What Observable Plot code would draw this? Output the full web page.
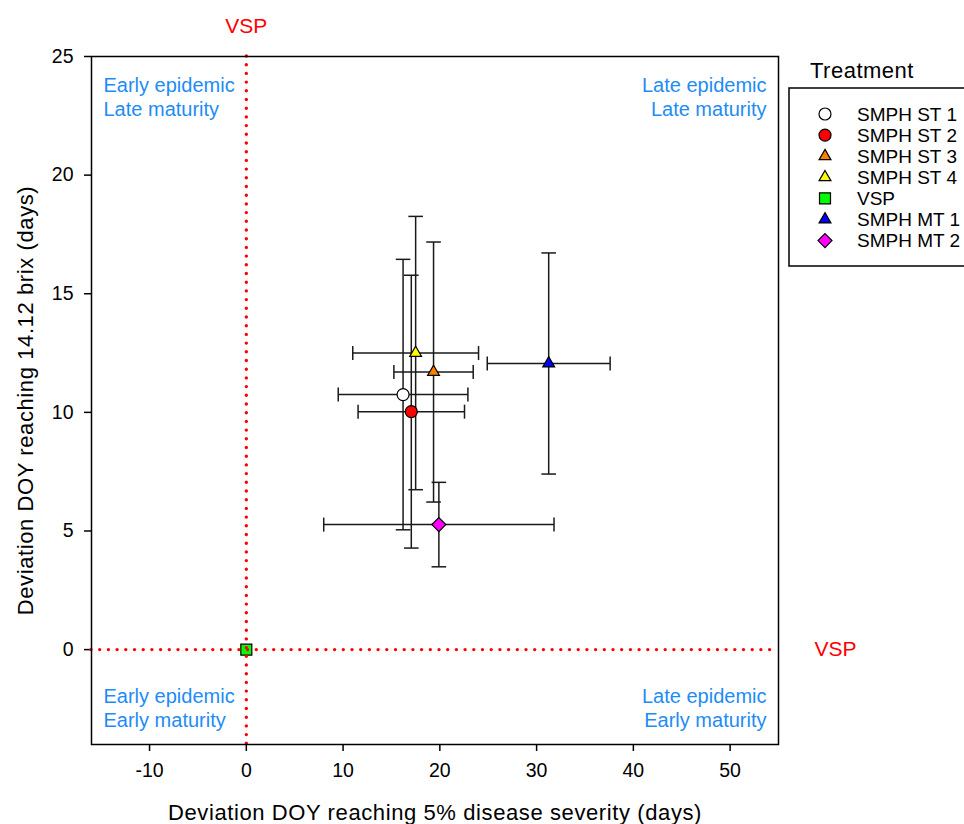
<!DOCTYPE html>
<html>
<head>
<meta charset="utf-8">
<script src="https://cdn.jsdelivr.net/npm/d3@7"></script>
<script src="https://cdn.jsdelivr.net/npm/@observablehq/plot@0.6"></script>
<style>
  html, body { margin: 0; padding: 0; background: white; overflow: hidden; }
  #wrap { position: relative; width: 964px; height: 824px; font-family: "Liberation Sans", Arial, sans-serif; }
  #legend { position: absolute; left: 0; top: 0; pointer-events: none; }
</style>
</head>
<body>
<div id="wrap"></div>
<script>
// ---- data ----
const treatments = ["SMPH ST 1", "SMPH ST 2", "SMPH ST 3", "SMPH ST 4", "VSP", "SMPH MT 1", "SMPH MT 2"];
const diseaseDev = [16.2, 17.05, 19.35, 17.5, 0, 31.25, 19.9];   // x: deviation DOY reaching 5% disease severity
const diseaseErr = [6.7, 5.5, 4.1, 6.5, 0, 6.35, 11.9];
const brixDev = [10.75, 10.03, 11.7, 12.5, 0, 12.06, 5.27];      // y: deviation DOY reaching 14.12 brix
const brixErr = [5.7, 5.75, 5.48, 5.76, 0, 4.66, 1.78];
const xTicks = [-10, 0, 10, 20, 30, 40, 50];
const yTicks = [0, 5, 10, 15, 20, 25];
const quadrantLabels = ["Early epidemic\nLate maturity", "Late epidemic\nLate maturity", "Early epidemic\nEarly maturity", "Late epidemic\nEarly maturity"];
const refLabel = "VSP";
const xTitle = "Deviation DOY reaching 5% disease severity (days)";
const yTitle = "Deviation DOY reaching 14.12 brix (days)";
const legendTitle = "Treatment";

// ---- styles ----
const fills = ["#FFFFFF", "#FF0000", "#FF7F00", "#FFFF00", "#00FF00", "#0000FF", "#FF00FF"];
const symbols = ["circle", "circle", "triangle", "triangle", "square", "triangle", "diamond2"];
const symbolR = {circle: 6, triangle: 4.4, square: 6.2, diamond2: 6.3};
const quadColor = "#1E8CF5";
const font = '"Liberation Sans", Arial, sans-serif';

const rows = treatments.map((t, i) => ({
  treatment: t, x: diseaseDev[i], xe: diseaseErr[i], y: brixDev[i], ye: brixErr[i],
  fill: fills[i], symbol: symbols[i]
}));
const withErr = rows.filter(d => d.xe > 0 || d.ye > 0);

const vCapSym = {draw(ctx) { ctx.moveTo(0, -7); ctx.lineTo(0, 7); }};
const hCapSym = {draw(ctx) { ctx.moveTo(-7.3, 0); ctx.lineTo(7.3, 0); }};
const errStroke = "#1a1a1a";

const dotMark = d => Plot.dot([d], {x: "x", y: "y", symbol: d.symbol, r: symbolR[d.symbol], fill: d.fill, stroke: "black", strokeWidth: 1.2});

const chart = Plot.plot({
  width: 964,
  height: 824,
  marginLeft: 91,
  marginRight: 186,
  marginTop: 56,
  marginBottom: 80,
  style: {fontFamily: font, fontSize: "19.5px", color: "black", background: "white", overflow: "visible"},
  x: {domain: [-16, 55]},
  y: {domain: [-4, 25]},
  marks: [
    Plot.axisX({ticks: xTicks, tickSize: 7, tickPadding: 12, strokeWidth: 1.5, fontSize: 19.5, label: null, tickFormat: d => String(d)}),
    Plot.axisY({ticks: yTicks, tickSize: 7, tickPadding: 11, strokeWidth: 1.5, fontSize: 19.5, label: null, tickFormat: d => String(d)}),
    // error bars
    Plot.link(withErr, {x1: d => d.x - d.xe, x2: d => d.x + d.xe, y1: "y", y2: "y", stroke: errStroke, strokeWidth: 1.5}),
    Plot.link(withErr, {x1: "x", x2: "x", y1: d => d.y - d.ye, y2: d => d.y + d.ye, stroke: errStroke, strokeWidth: 1.5}),
    Plot.dot(withErr, {x: d => d.x - d.xe, y: "y", symbol: vCapSym, r: 5, stroke: errStroke, strokeWidth: 1.5}),
    Plot.dot(withErr, {x: d => d.x + d.xe, y: "y", symbol: vCapSym, r: 5, stroke: errStroke, strokeWidth: 1.5}),
    Plot.dot(withErr, {x: "x", y: d => d.y - d.ye, symbol: hCapSym, r: 5, stroke: errStroke, strokeWidth: 1.5}),
    Plot.dot(withErr, {x: "x", y: d => d.y + d.ye, symbol: hCapSym, r: 5, stroke: errStroke, strokeWidth: 1.5}),
    // VSP reference marker, then dotted reference lines
    ...rows.filter(d => d.treatment === "VSP").map(dotMark),
    Plot.ruleX([0], {stroke: "#FF0000", strokeWidth: 3.4, strokeDasharray: "0 8.7", strokeLinecap: "round"}),
    Plot.ruleY([0], {stroke: "#FF0000", strokeWidth: 3.4, strokeDasharray: "0 8.7", strokeLinecap: "round"}),
    ...rows.filter(d => d.treatment !== "VSP").map(dotMark),
    Plot.frame({stroke: "black", strokeWidth: 1.5}),
    // reference labels
    Plot.text([0], {x: d => d, frameAnchor: "top", dy: -30, text: () => refLabel, fill: "#FF0000", fontSize: 21, lineAnchor: "middle"}),
    Plot.text([0], {y: d => d, frameAnchor: "right", dx: 57, text: () => refLabel, fill: "#FF0000", fontSize: 21, lineAnchor: "middle", textAnchor: "middle"}),
    // quadrant labels
    Plot.text([quadrantLabels[0]], {frameAnchor: "top-left", dx: 12, dy: 18, textAnchor: "start", lineAnchor: "top", lineHeight: 1.2, fontSize: 20, fill: quadColor}),
    Plot.text([quadrantLabels[1]], {frameAnchor: "top-right", dx: -12, dy: 18, textAnchor: "end", lineAnchor: "top", lineHeight: 1.2, fontSize: 20, fill: quadColor}),
    Plot.text([quadrantLabels[2]], {frameAnchor: "bottom-left", dx: 12, dy: -59, textAnchor: "start", lineAnchor: "top", lineHeight: 1.2, fontSize: 20, fill: quadColor}),
    Plot.text([quadrantLabels[3]], {frameAnchor: "bottom-right", dx: -12, dy: -59, textAnchor: "end", lineAnchor: "top", lineHeight: 1.2, fontSize: 20, fill: quadColor}),
    // axis titles
    Plot.text([xTitle], {frameAnchor: "bottom", dy: 68, lineAnchor: "middle", textAnchor: "middle", fontSize: 22, fill: "black"}),
    Plot.text([yTitle], {frameAnchor: "left", dx: -66, rotate: -90, lineAnchor: "middle", textAnchor: "middle", fontSize: 22, fill: "black"})
  ]
});

// widen the axis titles slightly (reference lettering is wider than Arial metrics)
d3.select(chart).selectAll("text")
  .filter(function() { return this.textContent === xTitle || this.textContent === yTitle; })
  .attr("letter-spacing", "0.6px");

const wrap = document.getElementById("wrap");
wrap.appendChild(chart);

// ---- legend ----
const symMap = {circle: d3.symbolCircle, triangle: d3.symbolTriangle, square: d3.symbolSquare, diamond2: d3.symbolDiamond2};
const lg = d3.select(wrap).append("svg").attr("id", "legend").attr("width", 964).attr("height", 824)
  .style("font-family", font);
lg.append("text").attr("x", 810).attr("y", 78).attr("font-size", 22).attr("letter-spacing", "0.5px").attr("fill", "black").text(legendTitle);
lg.append("rect").attr("x", 789).attr("y", 88).attr("width", 220).attr("height", 178)
  .attr("fill", "white").attr("stroke", "black").attr("stroke-width", 1.5);
const item = lg.selectAll("g.item").data(rows).join("g").attr("class", "item")
  .attr("transform", (d, i) => `translate(0,${114 + i * 21.1})`);
item.append("path")
  .attr("transform", "translate(825,0)")
  .attr("d", d => d3.symbol(symMap[d.symbol], Math.PI * symbolR[d.symbol] ** 2)())
  .attr("fill", d => d.fill).attr("stroke", "black").attr("stroke-width", 1.2);
item.append("text").attr("x", 857).attr("y", 6.5).attr("font-size", 19).attr("fill", "black").text(d => d.treatment);
</script>
</body>
</html>
